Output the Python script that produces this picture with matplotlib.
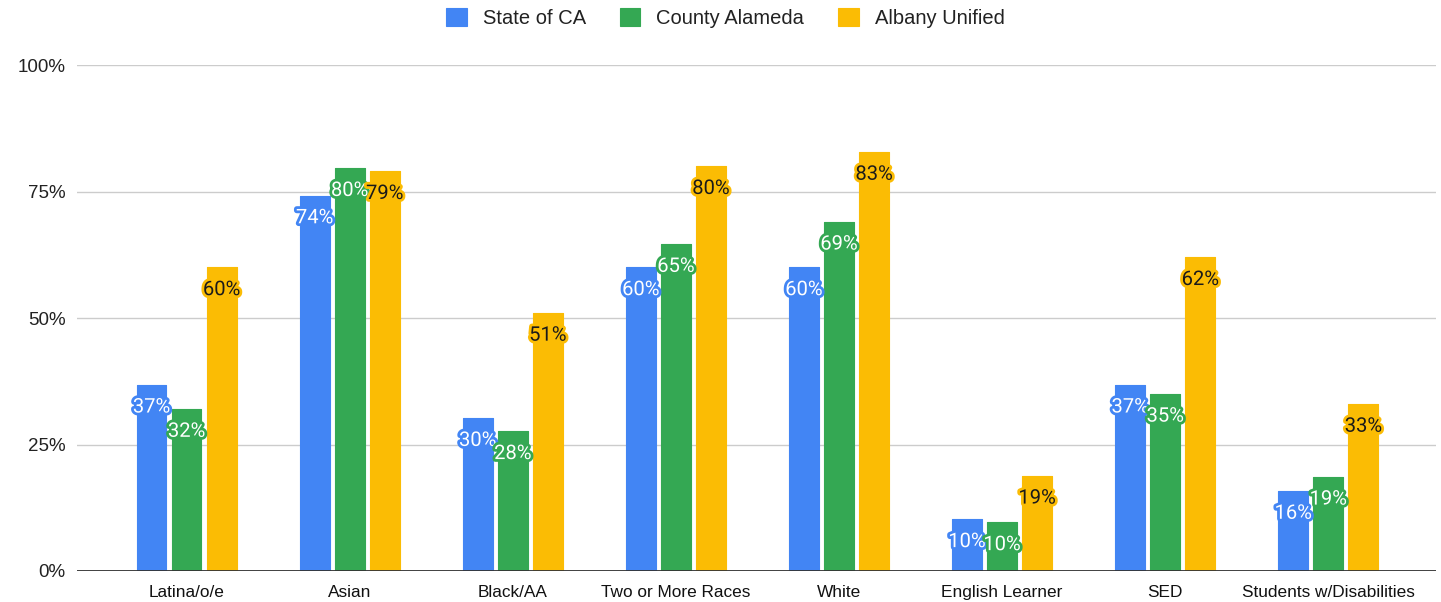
import matplotlib
matplotlib.use('Agg')
import matplotlib.pyplot as plt
import matplotlib.patheffects as pe
import numpy as np

# ============ 数据 ============
categories = ['Latina/o/e', 'Asian', 'Black/AA', 'Two or More Races', 'White',
              'English Learner', 'SED', 'Students w/Disabilities']
series_names = ['State of CA', 'County Alameda', 'Albany Unified']
state_ca = [36.8, 74.2, 30.2, 60.0, 60.0, 10.2, 36.8, 15.8]
county_alameda = [32.0, 79.6, 27.6, 64.6, 69.0, 9.6, 35.0, 18.6]
albany_unified = [60.0, 79.0, 51.0, 80.0, 82.8, 18.8, 62.0, 33.0]
yticks = [0, 25, 50, 75, 100]
ytick_labels = ['0%', '25%', '50%', '75%', '100%']

colors = ['#4285F4', '#34A853', '#FBBC04']
text_colors = ['white', 'white', '#1a1a1a']

# ============ 画图 ============
fig = plt.figure(figsize=(14.41, 6.02), dpi=100)
ax = fig.add_axes([0.0534, 0.0515, 0.9431, 0.8405])

x = np.arange(len(categories))
width = 0.183
offsets = [-0.215, 0, 0.215]
all_series = [state_ca, county_alameda, albany_unified]

handles = []
for vals, off, col, tcol, name in zip(all_series, offsets, colors, text_colors, series_names):
    bars = ax.bar(x + off, vals, width, color=col, edgecolor=col, linewidth=0.8,
                  joinstyle='round', label=name, zorder=3)
    handles.append(bars)
    for xi, v in zip(x + off, vals):
        ax.annotate(f'{round(v):d}%', xy=(xi, v), xytext=(0, -16),
                    textcoords='offset points', ha='center', va='center',
                    fontsize=14.5, family=['Roboto', 'DejaVu Sans'], color=tcol, zorder=5,
                    path_effects=[pe.withStroke(linewidth=4, foreground=col)])

ax.set_ylim(0, 100)
ax.set_xlim(-0.672, 7.66)
ax.set_yticks(yticks)
ax.set_yticklabels(ytick_labels, fontsize=13.5, family='Liberation Sans', color='#222222')
ax.set_xticks(x)
ax.set_xticklabels(categories, fontsize=12.4, family='Liberation Sans', color='#111111')
ax.tick_params(axis='both', length=0)
ax.tick_params(axis='y', pad=8)
ax.tick_params(axis='x', pad=10)

ax.grid(axis='y', color='#cccccc', linewidth=1, zorder=0)
ax.axhline(0, color='#333333', linewidth=1.3, zorder=4)
for s in ax.spines.values():
    s.set_visible(False)

leg = fig.legend(handles=handles, labels=series_names, loc='upper center',
                 bbox_to_anchor=(0.5035, 1.0), ncol=3, frameon=False,
                 prop={'family': 'Liberation Sans', 'size': 14.5},
                 handlelength=1.0, handleheight=1.0, handletextpad=0.8,
                 columnspacing=1.7, borderaxespad=0)
for t in leg.get_texts():
    t.set_color('#222222')

plt.savefig('out.png', dpi=100)
plt.close()
